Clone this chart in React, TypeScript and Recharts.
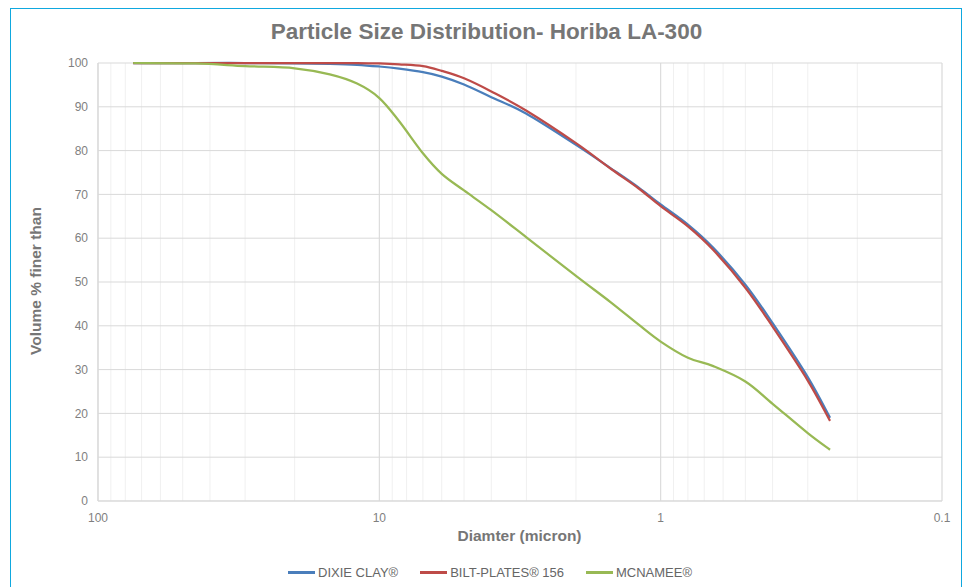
import React from "react";
import { CartesianGrid, Line, LineChart, ReferenceLine, XAxis, YAxis } from "recharts";

// diameters in micron
const diameters = [75, 45, 30, 20, 15, 12, 10, 8.5, 7, 6, 5, 4, 3, 2, 1.5, 1.2, 1.0, 0.8, 0.65, 0.5, 0.4, 0.3, 0.25];

// volume % finer than
const dixieClay = [100, 100, 100, 99.9, 99.8, 99.6, 99.2, 98.7, 97.9, 96.9, 95.1, 92.2, 88.4, 81.3, 75.9, 71.6, 67.7, 63.1, 57.8, 49.4, 40.6, 28.3, 19.0];
const biltPlates = [100, 100, 100, 100, 100, 100, 99.9, 99.7, 99.3, 98.2, 96.5, 93.5, 89.1, 81.7, 75.8, 71.4, 67.3, 62.7, 57.3, 48.7, 39.8, 27.5, 18.3];
const mcnamee = [100, 99.9, 99.3, 98.8, 97.4, 95.3, 92.0, 86.7, 79.4, 74.7, 70.9, 66.4, 60.2, 51.4, 45.3, 40.3, 36.4, 32.7, 30.8, 27.3, 22.2, 15.5, 11.7];

const yTicks = [0, 10, 20, 30, 40, 50, 60, 70, 80, 90, 100];
const decades = [100, 10, 1, 0.1];
const minorTicks = [0.1, 0.2, 0.3, 0.4, 0.5, 0.6, 0.7, 0.8, 0.9, 1, 2, 3, 4, 5, 6, 7, 8, 9, 10, 20, 30, 40, 50, 60, 70, 80, 90, 100];

const SERIES = [
  { key: "dixie", name: "DIXIE CLAY®", color: "#4a7ebb", values: dixieClay },
  { key: "bilt", name: "BILT-PLATES® 156", color: "#be4b48", values: biltPlates },
  { key: "mcn", name: "MCNAMEE®", color: "#98b954", values: mcnamee },
];

const data = diameters.map((d, i) => {
  const row: Record<string, number> = { d };
  SERIES.forEach((s) => (row[s.key] = s.values[i]));
  return row;
});

// Excel-style smoothed line (Catmull-Rom through the points)
class SmoothCurve {
  ctx: any;
  pts: number[][] = [];
  constructor(ctx: any) {
    this.ctx = ctx;
  }
  areaStart() {}
  areaEnd() {}
  lineStart() {
    this.pts = [];
  }
  point(x: number, y: number) {
    this.pts.push([+x, +y]);
  }
  lineEnd() {
    const p = this.pts;
    const c = this.ctx;
    if (!p.length) return;
    c.moveTo(p[0][0], p[0][1]);
    for (let i = 0; i < p.length - 1; i++) {
      const p0 = p[i - 1] || p[i];
      const p1 = p[i];
      const p2 = p[i + 1];
      const p3 = p[i + 2] || p[i + 1];
      c.bezierCurveTo(
        p1[0] + (p2[0] - p0[0]) / 6,
        p1[1] + (p2[1] - p0[1]) / 6,
        p2[0] - (p3[0] - p1[0]) / 6,
        p2[1] - (p3[1] - p1[1]) / 6,
        p2[0],
        p2[1]
      );
    }
  }
}
const smooth = (ctx: any) => new SmoothCurve(ctx);

const FONT = '"Liberation Sans", Arial, sans-serif';

export default function App() {
  return (
    <div style={{ position: "absolute", left: 0, top: 0, width: 969, height: 587, background: "#fff", fontFamily: FONT, overflow: "hidden" }}>
      <div style={{ position: "absolute", left: 10, top: 8, width: 952, height: 640, border: "1.5px solid #0fa8df", boxSizing: "border-box" }} />
      <div style={{ position: "absolute", left: 10, top: 19, width: 953, textAlign: "center", fontSize: 22.5, fontWeight: "bold", color: "#767676" }}>
        Particle Size Distribution- Horiba LA-300
      </div>
      <div style={{ position: "absolute", left: 0, top: 0 }}>
        <LineChart width={969} height={587} data={data} margin={{ top: 63, right: 27, bottom: 56, left: 0 }}>
          <CartesianGrid stroke="#f0f0f0" horizontal={false} />
          {yTicks.map((t) => (
            <ReferenceLine key={`h${t}`} y={t} stroke="#d9d9d9" strokeWidth={1} />
          ))}
          {decades.map((t) => (
            <ReferenceLine key={`v${t}`} x={t} stroke="#d9d9d9" strokeWidth={1} />
          ))}
          <XAxis
            dataKey="d"
            type="number"
            scale="log"
            domain={[0.1, 100]}
            reversed
            allowDataOverflow
            ticks={minorTicks}
            interval={0}
            tickFormatter={(v: number) => (decades.includes(v) ? String(v) : "")}
            tickLine={false}
            axisLine={{ stroke: "#d9d9d9" }}
            tickMargin={6}
            height={30}
            tick={{ fontSize: 12, fill: "#7f7f7f", fontFamily: FONT }}
          />
          <YAxis
            type="number"
            domain={[0, 100]}
            ticks={yTicks}
            interval={0}
            tickLine={false}
            axisLine={{ stroke: "#d9d9d9" }}
            tickMargin={4}
            width={98}
            tick={{ fontSize: 12, fill: "#7f7f7f", fontFamily: FONT }}
          />
          {SERIES.map((s) => (
            <Line
              key={s.key}
              dataKey={s.key}
              name={s.name}
              type={smooth as any}
              stroke={s.color}
              strokeWidth={2.25}
              dot={false}
              isAnimationActive={false}
            />
          ))}
        </LineChart>
      </div>
      <div
        style={{
          position: "absolute",
          left: 36,
          top: 281,
          transform: "translate(-50%, -50%) rotate(-90deg)",
          whiteSpace: "nowrap",
          fontSize: 15.5,
          fontWeight: "bold",
          color: "#767676",
        }}
      >
        Volume % finer than
      </div>
      <div style={{ position: "absolute", left: 97, width: 845, top: 527, textAlign: "center", fontSize: 15.5, fontWeight: "bold", color: "#767676" }}>
        Diamter (micron)
      </div>
      <div style={{ position: "absolute", left: 288, top: 565, display: "flex", alignItems: "center", fontSize: 13, color: "#666" }}>
        {SERIES.map((s, i) => (
          <div key={s.key} style={{ display: "flex", alignItems: "center", marginRight: i < SERIES.length - 1 ? 22 : 0 }}>
            <div style={{ width: 27, height: 2.25, background: s.color, marginRight: 3 }} />
            <span>{s.name}</span>
          </div>
        ))}
      </div>
    </div>
  );
}
